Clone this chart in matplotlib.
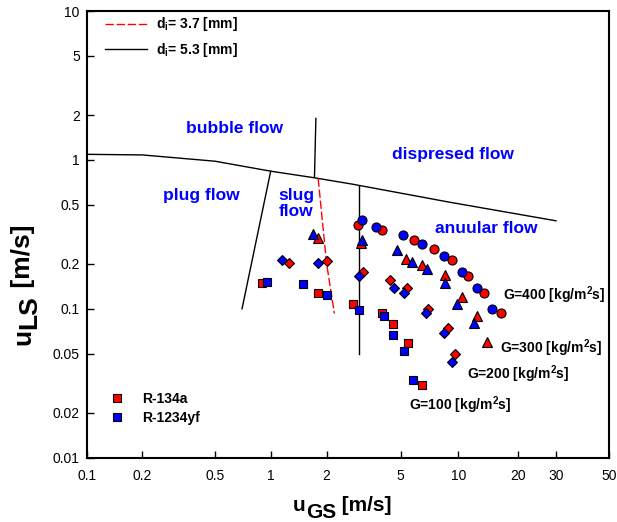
import matplotlib
matplotlib.use('Agg')
import matplotlib.pyplot as plt
from matplotlib.lines import Line2D
from matplotlib.ticker import FixedLocator, NullLocator, FuncFormatter
import numpy as np

plt.rcParams['font.family'] = ['Liberation Sans', 'DejaVu Sans']
plt.rcParams['mathtext.fontset'] = 'custom'
plt.rcParams['mathtext.rm'] = 'Liberation Sans:bold'
plt.rcParams['mathtext.it'] = 'Liberation Sans:bold'
plt.rcParams['mathtext.bf'] = 'Liberation Sans:bold'

RED = '#FF0000'
BLUE = '#0000FF'

# measured points: u_GS [m/s] and u_LS [m/s]
g400_r134a_x = [2.96, 3.95, 5.87, 7.46, 9.30, 11.2, 13.5, 16.5]
g400_r134a_y = [0.367, 0.340, 0.291, 0.253, 0.214, 0.165, 0.127, 0.093]
g400_r1234yf_x = [3.08, 3.67, 5.16, 6.44, 8.45, 10.5, 12.4, 14.9]
g400_r1234yf_y = [0.392, 0.357, 0.311, 0.274, 0.225, 0.176, 0.137, 0.099]

g300_r134a_x = [1.80, 3.06, 5.31, 6.44, 8.52, 10.5, 12.4, 13.9]
g300_r134a_y = [0.297, 0.275, 0.217, 0.198, 0.168, 0.120, 0.090, 0.060]
g300_r1234yf_x = [1.69, 3.10, 4.76, 5.71, 6.84, 8.52, 9.88, 12.0]
g300_r1234yf_y = [0.316, 0.288, 0.247, 0.206, 0.186, 0.149, 0.108, 0.080]

g200_r134a_x = [1.25, 2.01, 3.12, 4.38, 5.37, 6.97, 8.87, 9.61]
g200_r134a_y = [0.204, 0.210, 0.178, 0.157, 0.139, 0.099, 0.074, 0.050]
g200_r1234yf_x = [1.15, 1.80, 2.98, 4.60, 5.22, 6.78, 8.45, 9.30]
g200_r1234yf_y = [0.214, 0.204, 0.165, 0.137, 0.127, 0.093, 0.069, 0.044]

g100_r134a_x = [0.90, 1.80, 2.78, 3.95, 4.56, 5.48, 6.44]
g100_r134a_y = [0.148, 0.128, 0.108, 0.094, 0.079, 0.059, 0.031]
g100_r1234yf_x = [0.95, 1.50, 2.00, 3.00, 4.08, 4.56, 5.20, 5.78]
g100_r1234yf_y = [0.151, 0.147, 0.123, 0.098, 0.089, 0.067, 0.052, 0.033]

# flow pattern boundaries
top_x = [0.1, 0.2, 0.5, 1.0, 1.7, 2.7, 9.0, 30]
top_y = [1.09, 1.08, 0.98, 0.84, 0.76, 0.69, 0.52, 0.39]
bubble_x = [1.75, 1.72]
bubble_y = [1.9, 0.77]
plug_x = [1.0, 0.7]
plug_y = [0.84, 0.1]
slug37_x = [1.8, 2.0, 2.2]
slug37_y = [0.75, 0.2, 0.093]
annular_x = [3.0, 3.0]
annular_y = [0.67, 0.05]

x_ticks = [0.1, 0.2, 0.5, 1, 2, 5, 10, 20, 30, 50]
y_ticks = [0.01, 0.02, 0.05, 0.1, 0.2, 0.5, 1, 2, 5, 10]

# the x axis of the original is not a clean log axis (upper decades stretched),
# so map the ticks to where they sit along the axis
x_tick_frac = [0, 0.1064, 0.2455, 0.3521, 0.4592, 0.6008, 0.7111, 0.8247, 0.8980, 1.0]
log_ticks = np.log10(x_ticks)


def _fwd(x):
    x = np.asarray(x, dtype=float)
    return np.interp(np.log10(np.maximum(x, 1e-9)), log_ticks, x_tick_frac)


def _inv(p):
    return 10 ** np.interp(np.asarray(p, dtype=float), x_tick_frac, log_ticks)


fig = plt.figure(figsize=(6.17, 5.22), dpi=100)
ax = fig.add_axes([0.1405, 0.1232, 0.847, 0.8557])
ax.set_xscale('function', functions=(_fwd, _inv))
ax.set_yscale('log')
ax.set_xlim(0.1, 50)
ax.set_ylim(0.01, 10)

# boundaries
ax.plot(top_x, top_y, c='black', lw=1)
ax.plot(bubble_x, bubble_y, c='black', lw=1)
ax.plot(plug_x, plug_y, c='black', lw=1)
ax.plot(annular_x, annular_y, c='black', lw=1)
ax.plot(slug37_x, slug37_y, c=RED, lw=1, ls=(0, (6, 2)))

# data
series = [
    (g400_r134a_x, g400_r134a_y, 'o', 6.5, RED),
    (g400_r1234yf_x, g400_r1234yf_y, 'o', 6.5, BLUE),
    (g300_r134a_x, g300_r134a_y, '^', 7, RED),
    (g300_r1234yf_x, g300_r1234yf_y, '^', 7, BLUE),
    (g200_r134a_x, g200_r134a_y, 'D', 5.5, RED),
    (g200_r1234yf_x, g200_r1234yf_y, 'D', 5.5, BLUE),
    (g100_r134a_x, g100_r134a_y, 's', 6, RED),
    (g100_r1234yf_x, g100_r1234yf_y, 's', 6, BLUE),
]
for xs, ys, m, ms, col in series:
    ax.plot(xs, ys, ls='none', marker=m, ms=ms, mfc=col, mec='black', mew=0.8, zorder=5)

# axes styling
for sp in ax.spines.values():
    sp.set_linewidth(1.5)
fmt = FuncFormatter(lambda v, p: '%g' % v)
ax.xaxis.set_major_locator(FixedLocator(x_ticks))
ax.xaxis.set_major_formatter(fmt)
ax.xaxis.set_minor_locator(NullLocator())
ax.yaxis.set_major_locator(FixedLocator(y_ticks))
ax.yaxis.set_major_formatter(fmt)
ax.yaxis.set_minor_locator(NullLocator())
ax.tick_params(direction='in', length=5, width=1, top=False, right=False, labelsize=10)
ax.tick_params(axis='x', pad=8)
ax.tick_params(axis='y', pad=5)

# axis titles, subscript kept at full size like the original
lab = dict(fontsize=15, fontweight='bold')
xl = ax.text(0.3948, -0.129, 'u', transform=ax.transAxes, ha='left', va='bottom', **lab)
xl2 = ax.annotate('GS', xy=(1, 0), xycoords=xl, xytext=(0, -5), textcoords='offset points',
                  ha='left', va='bottom', **lab)
ax.annotate(' [m/s]', xy=(1, 0), xycoords=xl2, xytext=(0, 5), textcoords='offset points',
            ha='left', va='bottom', **lab)

ylab = dict(fontsize=19, fontweight='bold', rotation=90)
yl = ax.text(-0.098, 0.252, 'u', transform=ax.transAxes, ha='right', va='bottom', **ylab)
yl2 = ax.annotate('LS', xy=(1, 1), xycoords=yl, xytext=(4, 0), textcoords='offset points',
                  ha='right', va='bottom', **ylab)
ax.annotate(' [m/s]', xy=(1, 1), xycoords=yl2, xytext=(-4, 0), textcoords='offset points',
            ha='right', va='bottom', **ylab)

# regime names
reg = dict(color=BLUE, fontsize=12.5, fontweight='bold', transform=ax.transAxes, va='center')
ax.text(0.283, 0.737, 'bubble flow', ha='center', **reg)
ax.text(0.700, 0.679, 'dispresed flow', ha='center', **reg)
ax.text(0.2187, 0.5865, 'plug flow', ha='center', **reg)
ax.text(0.3666, 0.5695, 'slug\nflow', ha='left', linespacing=1.1, **reg)
ax.text(0.7654, 0.5135, 'anuular flow', ha='center', **reg)

# mass flux labels
gl = dict(fontsize=10, fontweight='bold', transform=ax.transAxes, va='center', ha='left')
ax.text(0.796, 0.364, 'G=400 [kg/m$^2$s]', **gl)
ax.text(0.791, 0.245, 'G=300 [kg/m$^2$s]', **gl)
ax.text(0.727, 0.187, 'G=200 [kg/m$^2$s]', **gl)
ax.text(0.617, 0.118, 'G=100 [kg/m$^2$s]', **gl)

# legends
line_handles = [Line2D([], [], color=RED, lw=1, ls=(0, (6, 2))),
                Line2D([], [], color='black', lw=1)]
leg1 = ax.legend(line_handles, ['d$_\\mathrm{i}$= 3.7 [mm]', 'd$_\\mathrm{i}$= 5.3 [mm]'],
                 loc='upper left', bbox_to_anchor=(0.035, 0.99), frameon=False,
                 borderpad=0, borderaxespad=0, handlelength=3.0, handletextpad=0.7,
                 labelspacing=0.55, prop={'weight': 'bold', 'size': 10})
ax.add_artist(leg1)

mk_handles = [Line2D([], [], ls='none', marker='s', ms=6, mfc=RED, mec='black', mew=0.8),
              Line2D([], [], ls='none', marker='s', ms=6, mfc=BLUE, mec='black', mew=0.8)]
ax.legend(mk_handles, ['R-134a', 'R-1234yf'], loc='upper left', bbox_to_anchor=(0.044, 0.147),
          frameon=False, borderpad=0, borderaxespad=0, handlelength=1.0, handletextpad=1.3,
          labelspacing=0.35, prop={'weight': 'bold', 'size': 10})

fig.savefig('out.png', dpi=100)
